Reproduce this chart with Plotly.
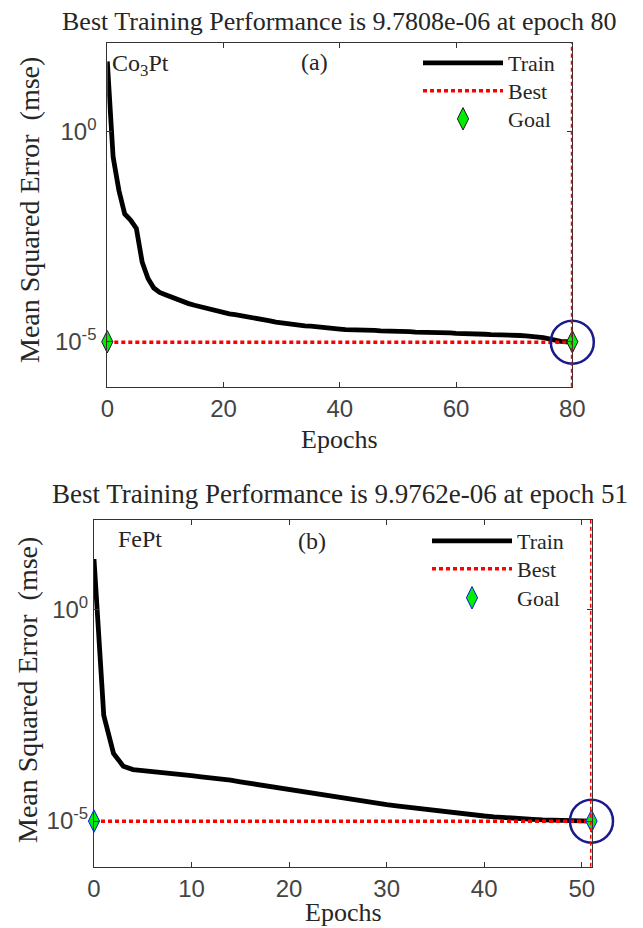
import plotly.graph_objects as go

# ---- Panel (a): Co3Pt training record ----
epochs_a = list(range(0, 81))
train_a = [
    4.7e1, 2.5e-1, 4.0e-2, 1.1e-2, 7.9e-3, 5.0e-3, 7.9e-4, 3.2e-4, 1.9e-4, 1.5e-4,
    1.32e-4, 1.15e-4, 1.02e-4, 9.1e-5, 8.1e-5, 7.4e-5, 6.8e-5, 6.2e-5, 5.75e-5, 5.4e-5,
    4.9e-5, 4.6e-5, 4.4e-5, 4.2e-5, 4.0e-5, 3.7e-5, 3.55e-5, 3.3e-5, 3.15e-5, 2.95e-5,
    2.8e-5, 2.7e-5, 2.6e-5, 2.5e-5, 2.4e-5, 2.35e-5, 2.25e-5, 2.2e-5, 2.15e-5, 2.1e-5,
    2.0e-5, 1.95e-5, 1.95e-5, 1.9e-5, 1.9e-5, 1.86e-5, 1.86e-5, 1.82e-5, 1.82e-5, 1.78e-5,
    1.78e-5, 1.74e-5, 1.74e-5, 1.7e-5, 1.7e-5, 1.66e-5, 1.66e-5, 1.62e-5, 1.62e-5, 1.62e-5,
    1.58e-5, 1.58e-5, 1.55e-5, 1.55e-5, 1.51e-5, 1.51e-5, 1.48e-5, 1.48e-5, 1.45e-5, 1.45e-5,
    1.41e-5, 1.41e-5, 1.38e-5, 1.35e-5, 1.32e-5, 1.26e-5, 1.17e-5, 1.07e-5, 1.02e-5, 1.0e-5,
    9.7808e-6,
]
best_epoch_a = 80
best_perf_a = 9.7808e-6
goal_a = 1e-5

# ---- Panel (b): FePt training record ----
epochs_b = list(range(0, 52))
train_b = [
    1.6e1, 3.2e-3, 4.0e-4, 2.0e-4, 1.66e-4, 1.58e-4, 1.51e-4, 1.48e-4, 1.38e-4, 1.29e-4,
    1.2e-4, 1.12e-4, 1.07e-4, 1.0e-4, 9.3e-5, 8.5e-5, 7.8e-5, 7.2e-5, 6.6e-5, 6.0e-5,
    5.6e-5, 5.25e-5, 4.8e-5, 4.4e-5, 4.0e-5, 3.65e-5, 3.3e-5, 3.0e-5, 2.8e-5, 2.65e-5,
    2.45e-5, 2.3e-5, 2.15e-5, 2.0e-5, 1.86e-5, 1.78e-5, 1.66e-5, 1.58e-5, 1.48e-5, 1.41e-5,
    1.32e-5, 1.26e-5, 1.2e-5, 1.17e-5, 1.12e-5, 1.1e-5, 1.07e-5, 1.06e-5, 1.05e-5, 1.03e-5,
    1.02e-5, 9.9762e-6,
]
best_epoch_b = 51
best_perf_b = 9.9762e-6
goal_b = 1e-5

x_ticks_a = [0, 20, 40, 60, 80]
x_ticks_b = [0, 10, 20, 30, 40, 50]
y_tickvals = [1e-5, 1e0]
y_ticktext = ["10<sup>-5</sup>", "10<sup>0</sup>"]

W, H = 643, 928
SERIF = "Liberation Serif"
SANS = "Liberation Sans"
TXT = "#262626"
TICK = "#444444"
AX = "#333333"


def px_x(p):
    return p / W


def px_y(p):
    return 1 - p / H


fig = go.Figure()

# each legend entry gets its own legend box so rows can be spaced freely
panels = [
    dict(x="x", y="y", ep=epochs_a, tr=train_a, be=best_epoch_a, bp=best_perf_a,
         goal=goal_a, goal_edge="#1a1a1a", legends=["legend", "legend3", "legend4"],
         leg_x=418, leg_rows=[63, 91, 119]),
    dict(x="x2", y="y2", ep=epochs_b, tr=train_b, be=best_epoch_b, bp=best_perf_b,
         goal=goal_b, goal_edge="#1010ff", legends=["legend2", "legend5", "legend6"],
         leg_x=427, leg_rows=[541, 569, 598]),
]

legend_layout = {}
for p in panels:
    lg_train, lg_best, lg_goal = p["legends"]
    fig.add_trace(go.Scatter(
        x=p["ep"], y=p["tr"], mode="lines", name="Train",
        line=dict(color="black", width=4.8),
        xaxis=p["x"], yaxis=p["y"], legend=lg_train,
    ))
    fig.add_trace(go.Scatter(
        x=[p["ep"][0], p["be"]], y=[p["bp"], p["bp"]], mode="lines", name="Best",
        line=dict(color="#ff0000", width=3.5, dash="4px,3px"),
        xaxis=p["x"], yaxis=p["y"], legend=lg_best,
    ))
    fig.add_trace(go.Scatter(
        x=[p["ep"][0], p["be"]], y=[p["goal"], p["goal"]], mode="markers", name="Goal",
        marker=dict(symbol="diamond-tall", size=16, color="#00ee00",
                    line=dict(color=p["goal_edge"], width=1)),
        xaxis=p["x"], yaxis=p["y"], legend=lg_goal, cliponaxis=False,
    ))
    # circle highlighting the best epoch
    fig.add_trace(go.Scatter(
        x=[p["be"]], y=[p["bp"]], mode="markers", showlegend=False,
        marker=dict(symbol="circle-open", size=43, color="#1a1a8c",
                    line=dict(width=2.5)),
        xaxis=p["x"], yaxis=p["y"], cliponaxis=False,
    ))
    # vertical dotted line at the best epoch, spanning the whole axis
    fig.add_shape(type="line", xref=p["x"], yref=p["y"] + " domain",
                  x0=p["be"], x1=p["be"], y0=0, y1=1,
                  line=dict(color="#ff0000", width=3, dash="4px,3px"))
    for lg, row in zip(p["legends"], p["leg_rows"]):
        legend_layout[lg] = dict(
            x=px_x(p["leg_x"]), y=px_y(row), xanchor="left", yanchor="middle",
            bgcolor="rgba(0,0,0,0)", itemwidth=80,
            font=dict(family=SERIF, size=22, color=TXT),
        )

axis_common = dict(
    showline=True, linecolor=AX, linewidth=1, mirror="ticks",
    ticks="inside", ticklen=5, tickcolor=AX,
    showgrid=False, zeroline=False, automargin=False,
    tickfont=dict(family=SANS, size=24, color=TICK),
)

dom_a_x = [px_x(107.3), px_x(572.3)]
dom_a_y = [px_y(386.7), px_y(42.7)]
dom_b_x = [px_x(94), px_x(591.5)]
dom_b_y = [px_y(866.7), px_y(520)]

fig.update_layout(
    width=W, height=H,
    margin=dict(l=0, r=0, t=0, b=0),
    paper_bgcolor="white", plot_bgcolor="white",
    xaxis=dict(domain=dom_a_x, anchor="y", range=[0, 80], tickvals=x_ticks_a,
               **axis_common),
    yaxis=dict(domain=dom_a_y, anchor="x", type="log", range=[-6.07, 2.12],
               tickvals=y_tickvals, ticktext=y_ticktext, ticklabelstandoff=5,
               **axis_common),
    xaxis2=dict(domain=dom_b_x, anchor="y2", range=[0, 51], tickvals=x_ticks_b,
                **axis_common),
    yaxis2=dict(domain=dom_b_y, anchor="x2", type="log", range=[-6.08, 2.13],
                tickvals=y_tickvals, ticktext=y_ticktext,
                **axis_common),
    showlegend=True,
    **legend_layout,
)

annotations = [
    dict(text="Best Training Performance is 9.7808e-06 at epoch 80",
         x=340, y=22, size=26, angle=0),
    dict(text="Best Training Performance is 9.9762e-06 at epoch 51",
         x=340, y=494, size=27, angle=0),
    dict(text="Epochs", x=340, y=439, size=26, angle=0),
    dict(text="Epochs", x=343, y=912, size=26, angle=0),
    dict(text="Mean Squared Error  (mse)", x=30, y=210, size=28, angle=-90),
    dict(text="Mean Squared Error  (mse)", x=27, y=690, size=28, angle=-90),
    dict(text="Co<sub>3</sub>Pt", x=140, y=65, size=24, angle=0),
    dict(text="(a)", x=314, y=62, size=24, angle=0),
    dict(text="FePt", x=140, y=539, size=24, angle=0),
    dict(text="(b)", x=312, y=541, size=24, angle=0),
]
for a in annotations:
    fig.add_annotation(text=a["text"], x=px_x(a["x"]), y=px_y(a["y"]),
                       xref="paper", yref="paper", textangle=a["angle"],
                       xanchor="center", yanchor="middle", showarrow=False,
                       font=dict(family=SERIF, size=a["size"], color=TXT))

fig.write_html("out.html")
